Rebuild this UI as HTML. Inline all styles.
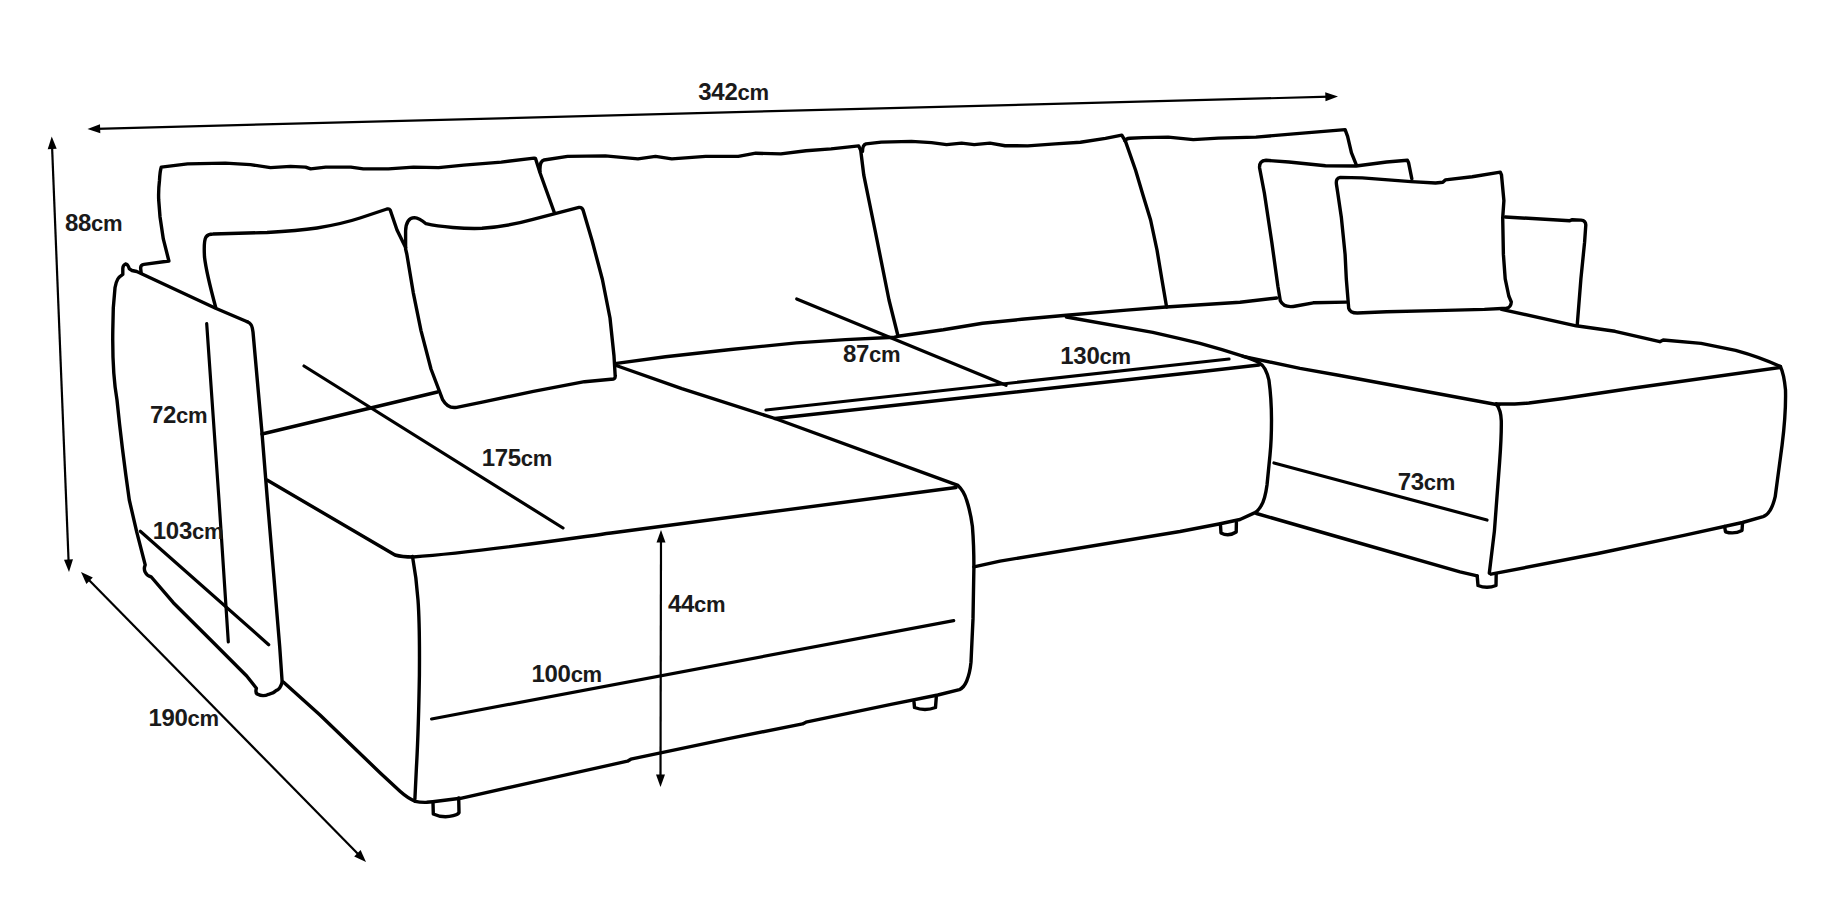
<!DOCTYPE html>
<html lang="en">
<head>
<meta charset="utf-8">
<title>Sofa dimensions</title>
<style>
html,body{margin:0;padding:0;background:#fff;}
body{width:1833px;height:900px;overflow:hidden;}
svg{display:block;}
.o{fill:none;stroke:#000;stroke-width:3.4;stroke-linecap:round;stroke-linejoin:round;}
.d{fill:none;stroke:#000;stroke-width:3.2;stroke-linecap:round;}
.a{fill:none;stroke:#000;stroke-width:2.2;}
.h{fill:#000;stroke:none;}
text{font-family:"Liberation Sans",sans-serif;font-weight:bold;font-size:24px;letter-spacing:-0.3px;fill:#1a1a1a;}
.u{font-size:22px;}
</style>
</head>
<body>
<svg width="1833" height="900" viewBox="0 0 1833 900">
<rect width="1833" height="900" fill="#fff"/>

<!-- BACK CUSHIONS -->
<g class="o" id="back">
<path d="M141.1,272.5 L140.6,267.8 Q140.8,264.8 144,264.4 L168.9,261 L163.3,238.9 L160,216.7 L158.7,200 Q158.3,190 159.5,180.2 Q160,171 161.3,167.1 L187.6,163.9 L225.3,163.1 L250.4,164.6 L270.5,167.6 L290.5,166.4 L305.6,167.1 L310.6,168.9 L325.7,167.1 L350.8,167.1 L363.3,168.9 L388.4,168.9 L413.5,167.1 L438.6,167.6 L463.7,165.1 L501.3,162.1 L534,158.1 L535.5,158.5 L540,172.7 L546.2,190 L554.5,213"/>
<path d="M540,171.5 Q539.5,161 544,160 L567.6,156.4 L605.3,155.9 L637.9,158.9 L655.5,156.4 L671.8,158.9 L705.7,156.4 L738.3,156.4 L755.8,153.2 L780.9,153.9 L806,150.7 L831.1,148.9 L858.7,145.9 L860.7,150.2 L863.8,175.2 L875,230 L889,300 L898,336"/>
<path d="M862.5,151.4 Q862.5,145 866,143.9 L881.3,142.1 L911.4,141.4 L931.5,142.6 L946.6,144.6 L961.6,143.1 L974.2,144.6 L990,143.1 L1005.1,145.7 L1027.7,145.9 L1055.3,143.9 L1080.4,142.2 L1105.5,138.4 L1121.8,135.1 L1125.5,141.4 L1135.6,170.3 L1143.1,195.4 L1150.6,220 L1157,250 L1162,280 L1166.6,307"/>
<path d="M1125,141 Q1126,138.5 1130,138.3 L1143.1,137.6 L1168.2,137.1 L1193.3,139.6 L1218.4,138.1 L1256,137.1 L1293.7,133.9 L1345.1,129.6 L1347.6,136.4 L1351.4,152.7 L1356.4,165.2"/>
</g>

<!-- LEFT ARMREST -->
<g class="o" id="armL">
<path d="M247.3,321.7 L215.6,308.2 L136.7,271.5 L132,270.5 L129.4,268.9 Q127.5,263.5 125.5,264 Q123,265 122.8,268.3 L122.8,274.4 Q119,277 117.8,279 Q116,282 115,287.8 L113.3,307.8 L112.8,330 C112.5,350 113.5,380 117,400 C120,430 125,470 129.3,500 L136.7,531.8 L145.2,564.8 Q143.5,569 145.2,572.1 Q147,576 151.3,577 L173.3,602.7 L210,639.3 L246.7,676 L256.4,688.2 Q255,693 257.7,694.3 Q263,697 268.7,694.3 Q274,693 276,690.7 Q280.5,689 282.1,682.1"/>
<path d="M247.3,321.7 Q251.5,323.5 252.3,328 L253,332 L262,433 L267.4,500 L273.6,573.3 L279.7,646.7 L282.1,681"/>
</g>

<!-- PILLOWS LEFT -->
<g class="o" id="pillL">
<path d="M215.6,307 C211,290 206,270 204.5,257 C204,248 204,240 206,237 Q208,234 213,234 L267,232.5 C285,231.5 300,230.5 317,228 C335,225 348,222 360,218 L387,209 Q389.3,208.5 390.2,210 L397,230 L405.6,247.5"/>
<path d="M405.6,249 L405.6,231 Q406,218 414.5,217.6 Q419,218 426,223.7 C440,227 465,229 482,228.3 C500,227 520,223 533,219.4 L579,207.4 Q582,207 583.2,210.4 L592.2,241 L602.4,279.5 L610,318 L614,356 L615.2,376 Q615.5,379.5 611,379.2 L584.5,381.7 L533.4,391.4 L482.3,402.2 L456.7,407.3 Q448,409 442.6,399.6 L431,369 L421,330.6 L413.2,292.3 L406.8,254 Z"/>
</g>

<!-- SEAT / BODY -->
<g class="o" id="body">
<path d="M262,434 L437.5,392"/>
<path d="M614.7,363.6 L665.5,356.8 L730.9,349.5 L796.4,342.9 L845.5,339.6 L894.6,337.2 L898,336.3 L943.3,329.8 L982.6,323.2 L1021.8,319.3 L1066.4,315.3 L1126.6,310.1 L1165.9,307 L1240,302.3 L1276.7,298"/>
<path d="M614.7,365 L681.8,388.7 L775,418.5 L958,485.4 Q964,491 966.7,500.4 Q970.5,512 972.4,526.4 C973.5,540 973.9,555 973.9,566.9 L973,618.9 L971,662.2 Q970,673 966.7,681 Q964,687.5 959.4,689.7 L937.8,695 L891,704.3 L805.9,722.2 L802.6,723.9 L727.3,738.8 L630.8,759.2 L627.5,761.2 L530.9,782.6 L460.6,798.3 L432.7,801.7 L426.7,802.3 Q420,802.5 415.3,801.3"/>
<path d="M267,480 L395,555 Q402,557 413,557 C480,552 560,540 611,533 L956,487.5"/>
<path d="M412.5,556.5 C415,570 417,585 418,600 C419.5,620 419.6,650 419.4,675 C419,700 418,740 416.4,768 L414.9,799"/>
<path d="M283.3,682.1 L320,715.1 L380,772.7 L400,791.3 Q408,798.5 415.3,801.3"/>
<path d="M775,418.5 L1200,371.7 L1258.9,365"/>
<path d="M1066.4,317 L1152.8,332.4 L1180,338.6 L1200,343.3 L1222,349.7 L1244.4,356.7 Q1254,360 1258.3,362.2 Q1263,365 1265,369 Q1268,375 1268.9,380 C1271,395 1271.5,410 1271.5,420 C1271.5,435 1271,445 1270,455 L1267,485 Q1265,500 1261,506 Q1258,511 1255,512.6 L1240,519.5 L1219,524 L1180,531.5 L1000,561.1 L973.9,566.9"/>
<path d="M1243,356.3 L1300,368.3 L1340,375.5 L1499,405"/>
<path d="M1496.2,403.9 Q1510,404.5 1528.9,403 L1563.3,398.5 L1632.2,388.2 L1780.4,367.5"/>
<path d="M1501.5,309.4 L1576.1,325.8 L1615,331.3 L1659.8,341.7 L1663.2,340 L1701.1,343.4 L1735.6,350.3 Q1760,357 1780.4,366.5"/>
<path d="M1780.4,366.5 Q1784,374 1785.5,389.9 C1786,410 1784,430 1782.1,445 L1775.2,496.7 Q1773,506 1770,510.5 Q1767,515.5 1763.1,516.7 L1742.5,522.5 L1683.9,535.3 L1597.8,553.5 L1491,574.2"/>
<path d="M1496.2,403.9 Q1501,410 1501.3,420.9 C1501.5,435 1500.5,450 1499.6,462.2 L1494.4,531.1 L1489.3,573.2"/>
<path d="M1256.5,513.5 L1340,537.5 L1460,571.8 L1477.2,575.9"/>
</g>

<!-- RIGHT ARMREST -->
<g class="o" id="armR">
<path d="M1505.2,217 L1569.9,220.7 L1572.4,219.7 L1581,220.1 Q1585.8,220.5 1585.8,225 L1584.6,242.2 L1580.9,278.8 L1577.2,325.3"/>
</g>

<!-- PILLOWS RIGHT -->
<g class="o" id="pillR">
<path d="M1346.3,302.1 L1313.3,302.8 L1296,306 Q1284,308.5 1280.3,300.8 L1277.9,286.2 L1271.8,242.2 L1264.4,193.3 L1259.6,168 Q1259,160.5 1266,160.3 L1288.9,162 L1325.5,165.7 L1356.1,166 L1386.6,162 L1407.4,160.3 L1408.6,162.8 L1411.8,178.7"/>
<path d="M1511.3,302 Q1511,307.5 1506.4,308.2 L1484.4,309.4 L1435.5,310.6 L1386.6,311.8 L1357.3,313 Q1350,313 1348.7,308.2 L1346.3,278.8 L1345.1,254.4 L1341.4,217.8 L1337.8,193.3 L1336.5,184.8 Q1335.5,178 1340.2,177.4 L1362.2,177.9 L1411.1,181.6 L1435.5,183 L1442.8,182.3 L1445.3,179.9 L1472.2,176.7 L1500.3,172.1 L1501.5,175 L1503.9,200.6 L1502.7,217.8 L1503.4,254.4 L1505.2,278.8 L1508.8,296 Z"/>
</g>

<!-- LEGS -->
<g class="o" id="legs">
<path d="M433,802.7 L433.3,814 Q443,818.5 453.3,815.7 Q458,814.5 459,812.7 L458.7,798"/>
<path d="M914,702 L914.5,707.5 Q925,711.5 935.5,707.5 L936.3,697"/>
<path d="M1220.5,525.5 L1221,533 Q1228.5,537 1236.2,532 L1236.4,522.5"/>
<path d="M1477.2,576 L1478,585.5 Q1487,589 1496,585.5 L1496.2,574"/>
<path d="M1724.6,526.5 L1725.5,531.8 Q1734,534.5 1742,530.5 L1742.5,523.5"/>
</g>

<!-- INNER DIMENSION LINES -->
<g class="d" id="dims">
<path d="M206.7,323.6 L219,500 L228.3,641.8"/>
<path d="M140.3,531.3 L268.7,644.7"/>
<path d="M304,366 L563,528"/>
<path d="M796.7,298.9 L1006.1,385.3"/>
<path d="M766,410 L1229,359"/>
<path d="M1274,463 L1487,520"/>
<path d="M431.6,719 L953.7,620.6"/>
</g>

<!-- OUTER ARROWS -->
<g id="arrows">
<path class="a" d="M96,128.8 L1330,96.7"/>
<path class="h" d="M87.5,129 L100,124.2 L100.3,133.2 Z"/>
<path class="h" d="M1338,96.5 L1325.5,101.3 L1325.2,92.3 Z"/>
<path class="a" d="M52,145 L68.7,564"/>
<path class="h" d="M51.7,136.5 L56.7,148.8 L47.7,149.2 Z"/>
<path class="h" d="M69,572 L64,559.7 L73,559.3 Z"/>
<path class="a" d="M87,578 L360,856"/>
<path class="h" d="M81,572 L92.8,577.6 L86.4,583.9 Z"/>
<path class="h" d="M366,862 L354.2,856.4 L360.6,850.1 Z"/>
<path class="a" d="M661,538 L660.5,779"/>
<path class="h" d="M661,530 L665.5,542.5 L656.5,542.5 Z"/>
<path class="h" d="M660.5,787 L656,774.5 L665,774.5 Z"/>
</g>

<!-- LABELS -->
<g id="labels" style="opacity:0.999">
<text x="698.3" y="100.3">342<tspan class="u">cm</tspan></text>
<text x="65" y="230.8">88<tspan class="u">cm</tspan></text>
<text x="150" y="422.6">72<tspan class="u">cm</tspan></text>
<text x="152.8" y="539.2">103<tspan class="u">cm</tspan></text>
<text x="481.7" y="465.7">175<tspan class="u">cm</tspan></text>
<text x="843" y="361.7">87<tspan class="u">cm</tspan></text>
<text x="1060.3" y="364.3">130<tspan class="u">cm</tspan></text>
<text x="1397.7" y="490">73<tspan class="u">cm</tspan></text>
<text x="668" y="611.7">44<tspan class="u">cm</tspan></text>
<text x="531.5" y="681.7">100<tspan class="u">cm</tspan></text>
<text x="148.4" y="726">190<tspan class="u">cm</tspan></text>
</g>
</svg>
</body>
</html>
